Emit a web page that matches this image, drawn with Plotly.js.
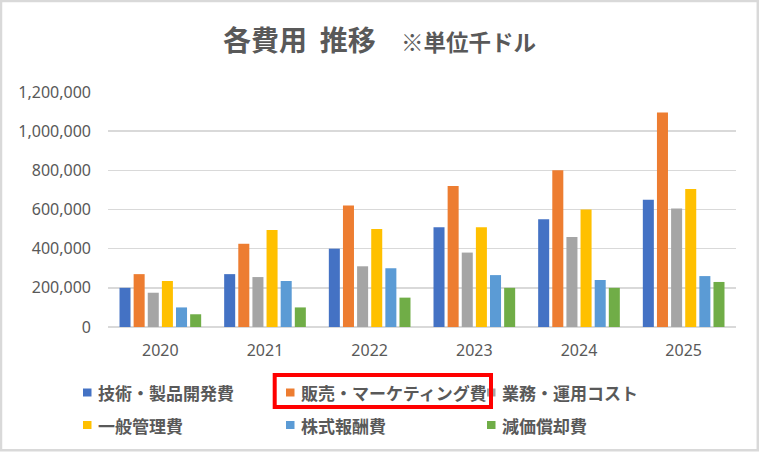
<!DOCTYPE html>
<html>
<head>
<meta charset="utf-8">
<script src="https://cdn.plot.ly/plotly-3.0.1.min.js"></script>
<style>
html,body{margin:0;padding:0;background:#fff;}
#chart{width:759px;height:452px;}
</style>
</head>
<body>
<div id="chart"></div>
<script>
// ---- data ----
var years = ['2020', '2021', '2022', '2023', '2024', '2025'];
var seriesNames = ['技術・製品開発費', '販売・マーケティング費', '業務・運用コスト', '一般管理費', '株式報酬費', '減価償却費'];
var techDev   = [200000, 270000, 400000, 510000, 550000, 650000];
var salesMkt  = [270000, 425000, 620000, 720000, 800000, 1095000];
var opsCost   = [175000, 255000, 310000, 380000, 460000, 605000];
var genAdmin  = [235000, 495000, 500000, 510000, 600000, 705000];
var stockComp = [100000, 235000, 300000, 265000, 240000, 260000];
var deprec    = [65000, 100000, 150000, 200000, 200000, 230000];
var yTicks = [0, 200000, 400000, 600000, 800000, 1000000, 1200000];
var titleMain = '各費用&nbsp;&nbsp;推移';
var titleUnit = '※単位千ドル';

// ---- style ----
var colors = ['#4472C4', '#ED7D31', '#A5A5A5', '#FFC000', '#5B9BD5', '#70AD47'];
var values = [techDev, salesMkt, opsCost, genAdmin, stockComp, deprec];
var W = 759, H = 452;
var L = 108, R = 736, T = 92, B = 327;
function px(x) { return (x - L) / (R - L); }
function py(y) { return (B - y) / (B - T); }
var textGray = '#595959';
var cjk = '"Noto Sans CJK JP", "Noto Sans", sans-serif';
var num = '"Noto Sans", "DejaVu Sans", sans-serif';

var traces = seriesNames.map(function (n, i) {
  return {
    type: 'bar', name: n, x: years, y: values[i],
    marker: { color: colors[i] }, hoverinfo: 'skip'
  };
});

// legend layout (custom, 3 columns x 2 rows)
var legMarkerX = [83, 286, 487];
var legTextX = [96, 299, 500];
var legRowY = [392.5, 425];
var shapes = [];
var annotations = [];
seriesNames.forEach(function (n, i) {
  var col = i % 3, row = Math.floor(i / 3);
  var cx = legMarkerX[col], cy = legRowY[row];
  shapes.push({
    type: 'rect', xref: 'paper', yref: 'paper',
    x0: px(cx), x1: px(cx + 8.5), y0: py(cy + 4), y1: py(cy - 4),
    fillcolor: colors[i], line: { width: 0 }
  });
  annotations.push({
    xref: 'paper', yref: 'paper', x: px(legTextX[col]), y: py(cy),
    xanchor: 'left', yanchor: 'middle', showarrow: false,
    text: '<b>' + n + '</b>', font: { family: cjk, size: 17, color: textGray }
  });
});
// unit note
annotations.push({
  xref: 'paper', yref: 'paper', x: px(399), y: py(41),
  xanchor: 'left', yanchor: 'middle', showarrow: false,
  text: '<b>' + titleUnit + '</b>', font: { family: cjk, size: 22.5, color: textGray }
});
// red highlight box
shapes.push({
  type: 'rect', xref: 'paper', yref: 'paper', layer: 'above',
  x0: px(274.7), x1: px(491), y0: py(407), y1: py(375),
  line: { color: '#FF0000', width: 4 }, fillcolor: 'rgba(0,0,0,0)'
});
// outer frame
shapes.push({
  type: 'rect', xref: 'paper', yref: 'paper', layer: 'above',
  x0: px(1), x1: px(757.8), y0: py(450.3), y1: py(1),
  line: { color: '#D9D9D9', width: 2.5 }, fillcolor: 'rgba(0,0,0,0)'
});

var layout = {
  width: W, height: H,
  margin: { l: L, r: W - R, t: T, b: H - B, pad: 0 },
  paper_bgcolor: '#ffffff', plot_bgcolor: '#ffffff',
  showlegend: false,
  barmode: 'group', bargap: 0.19, bargroupgap: 0.22,
  title: {
    text: '<b>' + titleMain + '</b>',
    x: 223 / W, xanchor: 'left', xref: 'container',
    y: 1 - 41 / H, yanchor: 'middle', yref: 'container',
    font: { family: cjk, size: 28, color: textGray }
  },
  xaxis: {
    type: 'category', showgrid: false, zeroline: false, showline: false,
    ticks: '', ticklabelstandoff: 12,
    tickfont: { family: num, size: 16, color: textGray }
  },
  yaxis: {
    range: [0, 1200000], tickmode: 'array', tickvals: yTicks,
    ticktext: yTicks.map(function (v) { return v.toLocaleString('en-US'); }),
    showgrid: true, gridcolor: '#D9D9D9', gridwidth: 1.5,
    zeroline: true, zerolinecolor: '#D9D9D9', zerolinewidth: 1.5,
    showline: false, ticks: '', ticklabelstandoff: 16,
    tickfont: { family: num, size: 16, color: textGray }
  },
  shapes: shapes,
  annotations: annotations
};

Plotly.newPlot('chart', traces, layout, { displayModeBar: false, staticPlot: true });
</script>
</body>
</html>
